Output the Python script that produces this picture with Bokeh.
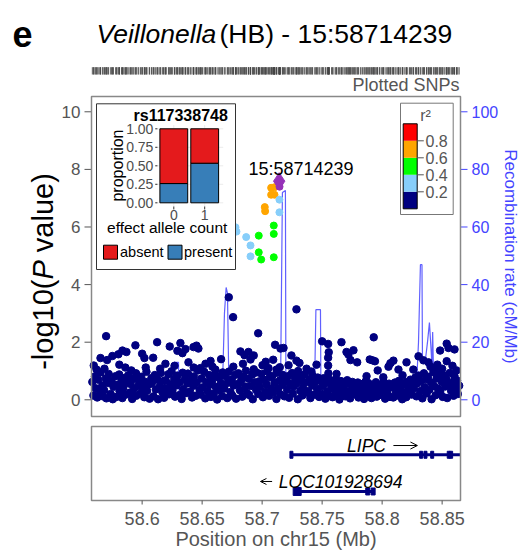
import math
from bokeh.plotting import figure
from bokeh.models import Range1d, Arrow, OpenHead
from bokeh.embed import file_html
from bokeh.resources import INLINE
from bokeh.core.properties import value

FONT = "Liberation Sans"
GREY = "#555555"
BLUE = "#4444FF"
NAVY = "#000080"

# ------------------------------------------------------------------ data
panel_letter = "e"
title_italic = "Veillonella"
title_rest = "(HB) - 15:58714239"
lead_label = "15:58714239"
ylab_parts = ["-log10(", "P", "value)"]
rec_title = "Recombination rate (cM/Mb)"
x_title = "Position on chr15 (Mb)"

# dense band of SNPs (position in Mb, -log10 P)
band_pos = [
    58.5585, 58.5594, 58.5607, 58.5613, 58.5626, 58.5634, 58.5647, 58.5652, 58.5668, 58.5673,
    58.5683, 58.5697, 58.5702, 58.5716, 58.5721, 58.5738, 58.5744, 58.5755, 58.5761, 58.5779,
    58.5786, 58.5791, 58.5809, 58.5812, 58.5828, 58.5835, 58.5843, 58.5856, 58.5864, 58.5875,
    58.5884, 58.5898, 58.5903, 58.5917, 58.5925, 58.5932, 58.5949, 58.5951, 58.5966, 58.5972,
    58.5987, 58.5992, 58.6004, 58.6018, 58.6023, 58.6036, 58.6041, 58.6059, 58.6062, 58.6077,
    58.6081, 58.6095, 58.6106, 58.6114, 58.6127, 58.6133, 58.6148, 58.6155, 58.6169, 58.6178,
    58.6183, 58.6196, 58.6201, 58.6219, 58.6224, 58.6237, 58.6245, 58.6252, 58.6268, 58.6274,
    58.6286, 58.6293, 58.6307, 58.6311, 58.6329, 58.6338, 58.6342, 58.6357, 58.6363, 58.6376,
    58.6382, 58.6399, 58.6405, 58.6416, 58.6428, 58.6431, 58.6447, 58.6454, 58.6465, 58.6479,
    58.6488, 58.6494, 58.6503, 58.6517, 58.6526, 58.6535, 58.6546, 58.6558, 58.6561, 58.6573,
    58.6584, 58.6597, 58.6608, 58.6612, 58.6625, 58.6639, 58.6643, 58.6656, 58.6667, 58.6671,
    58.6685, 58.6692, 58.6709, 58.6713, 58.6724, 58.6736, 58.6748, 58.6751, 58.6763, 58.6778,
    58.6783, 58.6798, 58.6802, 58.6815, 58.6827, 58.6834, 58.6846, 58.6857, 58.6865, 58.6872,
    58.6887, 58.6891, 58.6904, 58.6918, 58.6922, 58.6937, 58.6949, 58.6953, 58.6968, 58.6976,
    58.6981, 58.6995, 58.7007, 58.7013, 58.7026, 58.7038, 58.7042, 58.7059, 58.7064, 58.7077,
    58.7085, 58.7092, 58.7104, 58.7119, 58.7123, 58.7136, 58.7147, 58.7152, 58.7168, 58.7171,
    58.7186, 58.7193, 58.7208, 58.7214, 58.7225, 58.7231, 58.7249, 58.7256, 58.7262, 58.7274,
    58.7283, 58.7297, 58.7305, 58.7318, 58.7329, 58.7335, 58.7341, 58.7354, 58.7366, 58.7379,
    58.7384, 58.7396, 58.7402, 58.7417, 58.7421, 58.7439, 58.7443, 58.7458, 58.7464, 58.7475,
    58.7482, 58.7498, 58.7506, 58.7513, 58.7527, 58.7532, 58.7545, 58.7559, 58.7561, 58.7578,
    58.7587, 58.7591, 58.7608, 58.7614, 58.7623, 58.7637, 58.7644, 58.7656, 58.7665, 58.7673,
    58.7684, 58.7693, 58.7709, 58.7716, 58.7728, 58.7733, 58.7747, 58.7752, 58.7769, 58.7775,
    58.7782, 58.7797, 58.7803, 58.7818, 58.7824, 58.7836, 58.7849, 58.7851, 58.7863, 58.7877,
    58.7885, 58.7892, 58.7906, 58.7911, 58.7927, 58.7934, 58.7948, 58.7955, 58.7962, 58.7979,
    58.7981, 58.7996, 58.8004, 58.8012, 58.8025, 58.8039, 58.8043, 58.8058, 58.8066, 58.8074,
    58.8087, 58.8093, 58.8107, 58.8115, 58.8126, 58.8138, 58.8141, 58.8154, 58.8167, 58.8172,
    58.8184, 58.8199, 58.8201, 58.8213, 58.8228, 58.8236, 58.8245, 58.8257, 58.8263, 58.8278,
    58.8286, 58.8291, 58.8304, 58.8317, 58.8322, 58.8335, 58.8348, 58.8353, 58.8369, 58.8371,
    58.8383, 58.8394, 58.8408, 58.8412, 58.8427, 58.8433, 58.8446, 58.8454, 58.8465, 58.8479,
    58.8484, 58.8497, 58.8505, 58.8516, 58.8524, 58.8538, 58.8542, 58.8557, 58.8563, 58.8575,
    58.8582, 58.8595, 58.8603, 58.8618, 58.8624, 58.8631, 58.8642,
]
band_logp = [
    0.62, 0.15, 0.81, 0.40, 0.08, 0.70, 0.28, 0.95, 0.50, 0.12,
    0.33, 0.74, 0.05, 0.58, 0.90, 0.20, 0.66, 0.02, 0.45, 0.82,
    0.10, 0.52, 0.88, 0.30, 0.64, 0.06, 0.42, 0.76, 0.18, 0.60,
    0.85, 0.25, 0.55, 0.03, 0.72, 0.38, 0.92, 0.14, 0.48, 0.68,
    0.22, 0.80, 0.44, 0.09, 0.63, 0.97, 0.31, 0.54, 0.04, 0.75,
    0.58, 0.12, 0.86, 0.36, 0.70, 0.02, 0.47, 0.93, 0.26, 0.65,
    0.07, 0.68, 0.40, 0.89, 0.19, 0.55, 0.99, 0.32, 0.73, 0.11,
    0.50, 0.84, 0.16, 0.61, 0.03, 0.94, 0.37, 0.72, 0.23, 0.57,
    0.91, 0.29, 0.66, 0.08, 0.49, 0.81, 0.14, 0.60, 1.02, 0.35,
    0.18, 0.74, 0.43, 0.97, 0.05, 0.62, 0.30, 0.86, 0.52, 0.10,
    0.67, 0.21, 0.89, 0.45, 0.01, 0.77, 0.34, 0.58, 0.13, 0.95,
    0.39, 0.83, 0.06, 0.59, 0.98, 0.27, 0.71, 0.15, 0.50, 0.87,
    0.04, 0.55, 0.92, 0.33, 0.69, 0.11, 0.80, 0.46, 1.01, 0.24,
    0.73, 0.17, 0.48, 0.88, 0.02, 0.61, 0.36, 0.95, 0.20, 0.64,
    0.44, 0.90, 0.09, 0.70, 0.28, 0.53, 0.99, 0.14, 0.78, 0.38,
    0.83, 0.26, 0.60, 0.03, 0.94, 0.41, 0.67, 0.19, 0.87, 0.52,
    0.12, 0.65, 0.35, 0.82, 0.07, 0.57, 0.93, 0.22, 0.47, 0.76,
    0.56, 0.02, 0.79, 0.31, 0.68, 0.15, 0.45, 0.88, 0.25, 0.62,
    0.30, 0.71, 0.06, 0.50, 0.84, 0.18, 0.63, 0.38, 0.77, 0.10,
    0.66, 0.20, 0.47, 0.75, 0.04, 0.58, 0.29, 0.70, 0.13, 0.41,
    0.09, 0.54, 0.32, 0.72, 0.16, 0.46, 0.01, 0.65, 0.36, 0.23,
    0.49, 0.12, 0.68, 0.27, 0.57, 0.05, 0.40, 0.62, 0.19, 0.53,
    0.34, 0.60, 0.08, 0.45, 0.22, 0.55, 0.03, 0.38, 0.64, 0.15,
    0.58, 0.21, 0.42, 0.06, 0.50, 0.30, 0.61, 0.11, 0.44, 0.26,
    0.17, 0.52, 0.35, 0.63, 0.04, 0.40, 0.24, 0.56, 0.10, 0.47,
    0.43, 0.08, 0.60, 0.28, 0.51, 0.14, 0.66, 0.36, 0.02, 0.55,
    0.25, 0.62, 0.09, 0.48, 0.33, 0.70, 0.18, 0.55, 0.40, 0.78,
    0.12, 0.57, 0.84, 0.30, 0.66, 0.05, 0.92, 0.44, 0.71, 0.22,
    0.80, 0.35, 0.60, 0.02, 0.96, 0.48, 0.16, 0.74, 0.39, 0.88,
    0.27, 0.63, 0.10, 0.85, 0.46, 0.70, 0.06, 0.52, 0.93, 0.31,
    0.58, 0.14, 0.82, 0.40, 0.67, 0.20, 0.49,
]

# scattered SNPs above the band
upper_pos = [
    58.5597, 58.5700, 58.5653, 58.5708, 58.5752, 58.5802, 58.5836, 58.5869, 58.5686, 58.5810,
    58.5860, 58.5944, 58.6000, 58.6019, 58.6092, 58.6125, 58.6230, 58.6319, 58.6294, 58.6336,
    58.6361, 58.6194, 58.6428, 58.6453, 58.6469, 58.6386, 58.6486, 58.6528, 58.6586, 58.6658,
    58.6722, 58.6758, 58.6819, 58.6853, 58.6886, 58.6903, 58.6930, 58.6967, 58.7003, 58.7053,
    58.7092, 58.7108, 58.7153, 58.7178, 58.7244, 58.7286, 58.7311, 58.7286, 58.7147, 58.7300,
    58.7453, 58.7500, 58.7550, 58.7555, 58.7550, 58.7550, 58.7552, 58.7661, 58.7703, 58.7719,
    58.7761, 58.7736, 58.7792, 58.7897, 58.7930, 58.7919, 58.7940, 58.7963, 58.8069, 58.8094,
    58.8053, 58.8136, 58.8203, 58.8303, 58.8344, 58.8386, 58.8403, 58.8442, 58.8483, 58.8538,
    58.8553, 58.8603, 58.8538, 58.8500, 58.8586,
    58.5620, 58.5910, 58.6030, 58.6150, 58.6270, 58.6430, 58.6570, 58.6610, 58.6760, 58.6840,
    58.6930, 58.7030, 58.7120, 58.7220, 58.7370, 58.7410, 58.7620, 58.7870, 58.8010, 58.8170,
    58.8260, 58.8460, 58.8620,
]
upper_logp = [
    1.19, 2.21, 1.45, 1.38, 1.52, 1.58, 1.71, 1.66, 1.08, 1.22,
    1.12, 1.89, 1.60, 1.45, 1.46, 2.00, 1.85, 1.97, 1.70, 1.62,
    1.76, 1.25, 1.83, 1.88, 1.78, 1.30, 1.10, 1.25, 1.15, 1.41,
    3.56, 2.87, 1.68, 1.55, 1.66, 1.40, 1.54, 2.31, 1.20, 1.10,
    1.39, 1.91, 1.78, 1.80, 1.54, 1.36, 1.28, 3.14, 1.13, 1.00,
    1.22, 2.03, 1.94, 1.65, 1.46, 1.19, 0.92, 2.00, 1.66, 1.57,
    1.72, 1.38, 1.30, 1.40, 2.17, 1.37, 1.34, 1.02, 1.27, 1.36,
    1.15, 1.05, 1.30, 1.51, 1.37, 1.30, 1.15, 1.02, 1.71, 1.95,
    1.80, 1.75, 1.34, 1.08, 1.18,
    1.05, 1.02, 1.12, 1.08, 1.18, 1.12, 1.35, 1.05, 1.15, 1.25,
    1.06, 1.32, 1.05, 1.20, 1.08, 0.98, 0.90, 0.82, 0.78, 0.85,
    1.05, 1.22, 1.02,
]

# SNPs in LD with the lead variant
ld_pos = [58.7075, 58.7103, 58.7075, 58.7103, 58.7022, 58.7025,
          58.7144, 58.7144, 58.6778, 58.6786, 58.6867, 58.6903, 58.6903,
          58.6972, 58.7097, 58.7097, 58.6972, 58.6992, 58.7097]
ld_logp = [7.36, 7.38, 7.12, 7.12, 6.69, 6.55,
           6.95, 6.51, 5.99, 5.84, 5.65, 5.36, 4.98,
           5.70, 6.05, 5.76, 5.12, 4.87, 4.95]
ld_r2 = [0.70, 0.70, 0.70, 0.70, 0.70, 0.70,
         0.30, 0.30, 0.30, 0.30, 0.30, 0.30, 0.30,
         0.50, 0.50, 0.50, 0.50, 0.50, 0.50]

lead_pos = [58.7145, 58.7142]
lead_logp = [7.40, 7.59]

# recombination rate (cM/Mb)
rec_pos = [58.5578, 58.5653, 58.5936, 58.5953, 58.5978, 58.5994, 58.6236, 58.6265, 58.6269,
           58.6303, 58.6307, 58.6486, 58.6611, 58.6669, 58.6686, 58.6700, 58.6711, 58.6723,
           58.6819, 58.6986, 58.7153, 58.7169, 58.7194, 58.7198, 58.7294, 58.7303, 58.7328,
           58.7332, 58.7436, 58.7448, 58.7486, 58.7490, 58.7653, 58.7819, 58.7978, 58.7986,
           58.7998, 58.8003, 58.8144, 58.8153, 58.8161, 58.8165, 58.8269, 58.8292, 58.8303,
           58.8319, 58.8332, 58.8336, 58.8361, 58.8378, 58.8394, 58.8407, 58.8415, 58.8421,
           58.8428, 58.8453, 58.8528, 58.8653]
rec_rate = [0.3, 0.4, 1.0, 5.7, 5.7, 1.0, 1.5, 1.5, 13.0,
            13.0, 2.0, 2.5, 3.0, 4.0, 30.0, 39.0, 37.0, 5.0,
            3.0, 2.0, 3.0, 72.0, 72.7, 3.0, 4.0, 8.8, 8.8,
            2.0, 2.0, 31.3, 31.3, 2.0, 1.5, 1.0, 2.0, 8.8,
            8.8, 2.0, 2.0, 7.4, 7.4, 2.0, 3.0, 10.0, 20.0,
            46.9, 46.9, 15.0, 14.0, 20.0, 26.8, 18.0, 12.0, 23.5,
            10.0, 3.0, 2.0, 1.0]

r2_breaks = [0.0, 0.2, 0.4, 0.6, 0.8, 1.0]
r2_colors = ["#000080", "#87CEFA", "#00FF00", "#FFA500", "#FF0000"]
r2_tick_labels = ["0.2", "0.4", "0.6", "0.8"]
lead_color = "#9632B8"

# inset: proportion of carriers by effect allele count
inset_title = "rs117338748"
allele_count = [0, 1]
allele_labels = ["0", "1"]
present_prop = [0.26, 0.535]
absent_prop = [0.74, 0.465]
presence_labels = ["absent", "present"]
presence_colors = ["#E41A1C", "#377EB8"]
prop_ticks = [0.0, 0.25, 0.5, 0.75, 1.0]
prop_tick_labels = ["0.00", "0.25", "0.50", "0.75", "1.00"]

# genes
gene_names = ["LIPC", "LOC101928694"]
gene_start = [58.7244, 58.7292]
gene_end = [58.8700, 58.7930]
lipc_exons = [58.7244, 58.8325, 58.8361, 58.8417, 58.8555, 58.8575]
loc_exons = [58.7292, 58.7880, 58.7925]

x_ticks = [58.6, 58.65, 58.7, 58.75, 58.8, 58.85]
x_tick_labels = ["58.6", "58.65", "58.7", "58.75", "58.8", "58.85"]
logp_ticks = [0, 2, 4, 6, 8, 10]
logp_tick_labels = ["0", "2", "4", "6", "8", "10"]
rec_ticks = [0, 20, 40, 60, 80, 100]
rec_tick_labels = ["0", "20", "40", "60", "80", "100"]

XMIN, XMAX = 58.5578, 58.8653
LOGP_MIN, LOGP_MAX = -0.58, 10.531

# ------------------------------------------------------------------ layout (page pixels)
W, H = 520, 560
FL, FR = 91, 460            # data panels, left / right
MT, MB = 96, 416            # main panel top / bottom
GT, GB = 426, 500           # gene panel top / bottom


def xmap(v_at_left, v_at_right, left, right):
    k = (v_at_right - v_at_left) / (right - left)
    return Range1d(v_at_left - left * k, v_at_left + (W - left) * k)


def ymap(v_at_bottom, v_at_top, bottom, top):
    k = (v_at_top - v_at_bottom) / (bottom - top)
    return Range1d(v_at_bottom - (H - bottom) * k, v_at_top + top * k)


p = figure(width=W, height=H, x_range=Range1d(0, W), y_range=Range1d(H, 0),
           output_backend="svg", toolbar_location=None, min_border=0,
           x_axis_location=None, y_axis_location=None)
p.outline_line_color = None
p.grid.grid_line_color = None
p.extra_x_ranges = {
    "mb": xmap(XMIN, XMAX, FL, FR),
    "cat": xmap(0, 1, 173.3, 204.2),
}
p.extra_y_ranges = {
    "logp": ymap(LOGP_MIN, LOGP_MAX, MB, MT),
    "rec": ymap(LOGP_MIN * 10, LOGP_MAX * 10, MB, MT),
    "gene": ymap(0, 1, GB, GT),
    "prop": ymap(0, 1, 202.3, 128.3),
    "r2": ymap(0, 1, 208.3, 123.3),
}


def r2_color(r):
    for i in range(len(r2_colors)):
        if r2_breaks[i] <= r < r2_breaks[i + 1] or (i == len(r2_colors) - 1 and r >= r2_breaks[-1]):
            return r2_colors[i]
    return r2_colors[0]


def txt(x, y, s, size, color="black", align="left", baseline="middle", style="normal",
        angle=0.0, **kw):
    p.text(x=x, y=y, text=s, text_font=value(FONT), text_font_size=value(size),
           text_color=color, text_align=align, text_baseline=baseline,
           text_font_style=value(style), angle=angle, **kw)


all_pos = band_pos + upper_pos + ld_pos + lead_pos

# ---------------- title and rug
txt([12], [33], [panel_letter], "36px", style="bold")
txt([96], [33], [title_italic], "26.5px", style="italic")
txt([219], [33], [title_rest], "26.5px")
p.segment(x0=all_pos, y0=66.7, x1=all_pos, y1=74, x_range_name="mb",
          line_color="#444444", line_width=1, line_alpha=0.85)
txt([459], [84], ["Plotted SNPs"], "18px", color=GREY, align="right")

# ---------------- main panel
p.quad(left=FL, right=FR, top=MT, bottom=MB, fill_color="white", line_color=None)
p.line(rec_pos, rec_rate, x_range_name="mb", y_range_name="rec",
       line_color=BLUE, line_width=1.2, line_alpha=0.85)
p.scatter(band_pos, band_logp, x_range_name="mb", y_range_name="logp",
          size=7.5, fill_color=NAVY, line_color=NAVY)
p.scatter(upper_pos, upper_logp, x_range_name="mb", y_range_name="logp",
          size=7.5, fill_color=NAVY, line_color=NAVY)
ld_cols = [r2_color(r) for r in ld_r2]
p.scatter(ld_pos, ld_logp, x_range_name="mb", y_range_name="logp",
          size=7, fill_color=ld_cols, line_color=ld_cols)
p.scatter(lead_pos[:1], lead_logp[:1], x_range_name="mb", y_range_name="logp",
          size=7, fill_color=lead_color, line_color=lead_color)
p.scatter(lead_pos[1:], lead_logp[1:], x_range_name="mb", y_range_name="logp",
          marker="diamond", size=17, fill_color=lead_color, line_color=lead_color)
txt([248], [168], [lead_label], "18px")

# left axis (-log10 P)
p.segment(x0=FL - 7, x1=FL, y0=logp_ticks, y1=logp_ticks, y_range_name="logp",
          line_color=GREY, line_width=1)
txt([FL - 11] * len(logp_ticks), logp_ticks, logp_tick_labels, "17px", color=GREY,
    align="right", y_range_name="logp")
ysz = 29
w1, wP, wsp, w3 = 3.112 * ysz, 0.667 * ysz, 0.278 * ysz, 2.723 * ysz
y0 = 271 + (w1 + wP + wsp + w3) / 2
for s, yy, st in zip(ylab_parts, [y0, y0 - w1, y0 - w1 - wP - wsp], ["normal", "italic", "normal"]):
    txt([42], [yy], [s], "%dpx" % ysz, style=st, angle=math.pi / 2)

# right axis (recombination rate)
p.segment(x0=FR, x1=FR + 7, y0=rec_ticks, y1=rec_ticks, y_range_name="rec",
          line_color=BLUE, line_width=1)
txt([FR + 11] * len(rec_ticks), rec_ticks, rec_tick_labels, "16px", color=BLUE,
    y_range_name="rec")
txt([510], [256], [rec_title], "17px", color=BLUE, align="center", angle=-math.pi / 2)

p.quad(left=FL, right=FR, top=MT, bottom=MB, fill_color=None, line_color="#888888",
       line_width=1.5)

# ---------------- inset bar chart
p.quad(left=96, right=235, top=103.3, bottom=269, fill_color="white",
       line_color="#333333", line_width=1)
p.segment(x0=-0.6, x1=1.6, y0=prop_ticks, y1=prop_ticks, x_range_name="cat",
          y_range_name="prop", line_color="#EBEBEB", line_width=1)
p.segment(x0=allele_count, x1=allele_count, y0=-0.05, y1=1.05, x_range_name="cat",
          y_range_name="prop", line_color="#EBEBEB", line_width=1)
p.vbar(x=allele_count, width=0.9, bottom=0, top=present_prop, x_range_name="cat",
       y_range_name="prop", fill_color=presence_colors[1], line_color="black", line_width=1)
p.vbar(x=allele_count, width=0.9, bottom=present_prop,
       top=[a + b for a, b in zip(present_prop, absent_prop)], x_range_name="cat",
       y_range_name="prop", fill_color=presence_colors[0], line_color="black", line_width=1)
p.segment(x0=-0.60, x1=-0.53, y0=prop_ticks, y1=prop_ticks, x_range_name="cat",
          y_range_name="prop", line_color="#333333", line_width=1)
txt([-0.66] * 5, prop_ticks, prop_tick_labels, "14px", color="#4D4D4D", align="right",
    x_range_name="cat", y_range_name="prop")
p.segment(x0=allele_count, x1=allele_count, y0=-0.05, y1=-0.09, x_range_name="cat",
          y_range_name="prop", line_color="#333333", line_width=1)
txt(allele_count, [-0.162] * 2, allele_labels, "14px", color="#4D4D4D", align="center",
    x_range_name="cat", y_range_name="prop")
txt([133], [115], [inset_title], "16px", style="bold")
txt([116.7], [165], ["proportion"], "16px", align="center", angle=math.pi / 2)
txt([166.7], [226.7], ["effect allele count"], "15.5px", align="center")
p.rect(x=[110, 174.5], y=[251.7, 251.7], width=14, height=14, width_units="screen",
       height_units="screen", fill_color=presence_colors, line_color="black")
txt([119.5, 183.5], [251.7, 251.7], presence_labels, "14.5px")

# ---------------- r2 legend
p.quad(left=400, right=452.7, top=102.7, bottom=214, fill_color="white",
       line_color="#777777", line_width=1)
p.quad(left=402.7, right=416.7, bottom=r2_breaks[:-1], top=r2_breaks[1:],
       fill_color=r2_colors, line_color=None, y_range_name="r2")
p.quad(left=402.7, right=416.7, bottom=0, top=1, fill_color=None, line_color="black",
       line_width=1, y_range_name="r2")
p.segment(x0=416.7, x1=423.3, y0=r2_breaks[1:-1], y1=r2_breaks[1:-1],
          line_color=GREY, line_width=1, y_range_name="r2")
txt([425] * 4, r2_breaks[1:-1], r2_tick_labels, "16px", color=GREY, y_range_name="r2")
txt([425], [115], ["r\u00b2"], "16px", color=GREY, align="center")

# ---------------- gene panel
row_y = [0.618, 0.122]
g_end = [min(e, XMAX) for e in gene_end]
p.segment(x0=gene_start, x1=g_end, y0=row_y, y1=row_y, x_range_name="mb",
          y_range_name="gene", line_color=NAVY, line_width=3)
p.rect(x=lipc_exons, y=row_y[0], width=3, height=7, width_units="screen",
       height_units="screen", fill_color=NAVY, line_color=NAVY,
       x_range_name="mb", y_range_name="gene")
p.rect(x=loc_exons, y=row_y[1], width=[8, 4, 4], height=[8, 7, 7], width_units="screen",
       height_units="screen", fill_color=NAVY, line_color=NAVY,
       x_range_name="mb", y_range_name="gene")
txt([58.7708], [0.73], [gene_names[0]], "17.5px", style="italic",
    x_range_name="mb", y_range_name="gene")
txt([58.7139], [0.25], [gene_names[1]], "17.5px", style="italic",
    x_range_name="mb", y_range_name="gene")
p.add_layout(Arrow(end=OpenHead(size=7, line_width=1, line_color="black"),
                   x_start=58.8094, y_start=0.743, x_end=58.8294, y_end=0.743,
                   x_range_name="mb", y_range_name="gene", line_width=1, line_color="black"))
p.add_layout(Arrow(end=OpenHead(size=6, line_width=1, line_color="black"),
                   x_start=58.7083, y_start=0.257, x_end=58.6986, y_end=0.257,
                   x_range_name="mb", y_range_name="gene", line_width=1, line_color="black"))
p.quad(left=FL, right=FR, top=GT, bottom=GB, fill_color=None, line_color="#888888",
       line_width=1.5)

# bottom axis
p.segment(x0=x_ticks, x1=x_ticks, y0=GB, y1=GB + 4, x_range_name="mb",
          line_color=GREY, line_width=1)
txt(x_ticks, [518] * len(x_ticks), x_tick_labels, "18px", color=GREY, align="center",
    x_range_name="mb")
txt([(FL + FR) / 2], [538], [x_title], "20px", color=GREY, align="center")

open("out.html", "w").write(file_html(p, INLINE))
